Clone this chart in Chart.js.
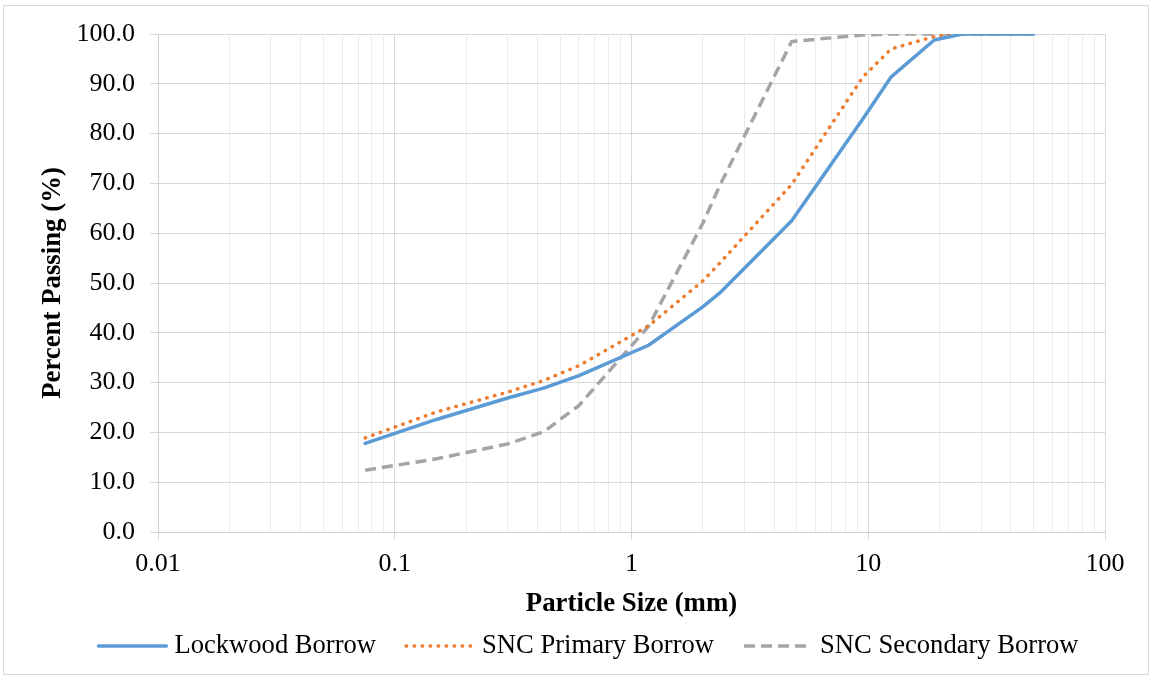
<!DOCTYPE html>
<html>
<head>
<meta charset="utf-8">
<title>Particle Size Distribution</title>
<script src="https://cdn.jsdelivr.net/npm/chart.js@4.4.1/dist/chart.umd.min.js"></script>
<style>
  html, body { margin: 0; padding: 0; background: #ffffff; }
  #wrap { width: 1152px; height: 677px; position: relative; }
  canvas { display: block; }
</style>
</head>
<body>
<div id="wrap"><canvas id="gradation" width="1152" height="677"></canvas></div>
<script>
// Sieve sizes (mm) and percent passing for each borrow source
const sieveSizes   = [0.075, 0.15, 0.3, 0.425, 0.6, 1.18, 2.0, 2.36, 4.75, 9.5, 12.5, 19, 25, 37.5, 50];
const lockwood     = [17.8, 22.6, 26.9, 28.9, 31.4, 37.5, 45.2, 48.0, 62.5, 83.0, 91.4, 98.8, 100, 100, 100];
const sncPrimary   = [18.9, 24.1, 28.1, 30.4, 33.4, 41.4, 50.4, 54.0, 69.8, 91.4, 97.0, 99.5, 100, 100, 100];
const sncSecondary = [12.4, 14.7, 17.7, 20.1, 25.4, 41.3, 62.0, 69.6, 98.5, 99.8, 100, 100, 100, 100, 100];

const seriesNames = ['Lockwood Borrow', 'SNC Primary Borrow', 'SNC Secondary Borrow'];
const xDecadeLabels = ['0.01', '0.1', '1', '10', '100'];
const yTickValues = [0, 10, 20, 30, 40, 50, 60, 70, 80, 90, 100];
const xTitle = 'Particle Size (mm)';
const yTitle = 'Percent Passing (%)';

const SERIF = '"Liberation Serif", "Times New Roman", serif';
const INK = '#000000';
const MAJOR_GRID = '#d9d9d9';
const MINOR_GRID = '#ebebeb';
const legendCenterX = 588.5;
const legendY = 646;

// log-axis gridline positions: 1..9 in every decade between the first and last labelled decade
const decades = xDecadeLabels.map(Number);
const xGridValues = [];
for (let d = 0; d < decades.length - 1; d++) {
  for (let k = 1; k <= 9; k++) xGridValues.push(Number((k * decades[d]).toPrecision(6)));
}
xGridValues.push(decades[decades.length - 1]);

const isDecade = v => Math.abs(Math.log10(v) - Math.round(Math.log10(v))) < 1e-9;

function toPoints(values) {
  return sieveSizes.map((s, i) => ({ x: s, y: values[i] }));
}

// legend drawn beneath the axis title, plus the outer frame
const bottomKey = {
  id: 'bottomKey',
  afterDraw(chart) {
    const ctx = chart.ctx;
    ctx.save();
    ctx.font = '26.6px ' + SERIF;
    const sample = 68, gapText = 8, gapItem = 30;
    const items = chart.data.datasets.map(ds => ({ ds, w: ctx.measureText(ds.label).width }));
    const total = items.reduce((s, it) => s + sample + gapText + it.w, 0) + gapItem * (items.length - 1);
    let x = legendCenterX - total / 2;
    items.forEach(it => {
      const ds = it.ds;
      ctx.beginPath();
      ctx.strokeStyle = ds.borderColor;
      ctx.lineWidth = ds.borderWidth;
      ctx.setLineDash(ds.borderDash || []);
      ctx.lineCap = ds.borderCapStyle || 'butt';
      ctx.moveTo(x, legendY);
      ctx.lineTo(x + sample, legendY);
      ctx.stroke();
      ctx.setLineDash([]);
      ctx.fillStyle = INK;
      ctx.textBaseline = 'middle';
      ctx.textAlign = 'left';
      ctx.fillText(ds.label, x + sample + gapText, legendY);
      x += sample + gapText + it.w + gapItem;
    });
    ctx.strokeStyle = '#d9d9d9';
    ctx.lineWidth = 1;
    ctx.strokeRect(3.5, 5.5, 1145, 669);
    ctx.restore();
  }
};

new Chart(document.getElementById('gradation'), {
  type: 'line',
  data: {
    datasets: [
      {
        label: seriesNames[0],
        data: toPoints(lockwood),
        borderColor: '#5b9bd5',
        borderWidth: 3.5,
        borderCapStyle: 'round',
        borderJoinStyle: 'round'
      },
      {
        label: seriesNames[1],
        data: toPoints(sncPrimary),
        borderColor: '#ed7d31',
        borderWidth: 3.5,
        borderDash: [0.5, 7.5],
        borderCapStyle: 'round',
        borderJoinStyle: 'round'
      },
      {
        label: seriesNames[2],
        data: toPoints(sncSecondary),
        borderColor: '#a5a5a5',
        borderWidth: 3.5,
        borderDash: [11, 6],
        borderCapStyle: 'butt',
        borderJoinStyle: 'round'
      }
    ]
  },
  options: {
    responsive: false,
    animation: false,
    devicePixelRatio: 1,
    elements: { point: { radius: 0, hoverRadius: 0 }, line: { tension: 0, fill: false } },
    layout: { padding: { left: 10, right: 47, top: 34, bottom: 60 } },
    plugins: { legend: { display: false }, tooltip: { enabled: false } },
    scales: {
      x: {
        type: 'logarithmic',
        min: decades[0],
        max: decades[decades.length - 1],
        afterBuildTicks(scale) {
          scale.ticks = xGridValues.map(v => ({ value: v, major: isDecade(v) }));
        },
        afterFit(scale) { scale.height = 85; },
        ticks: {
          autoSkip: false,
          maxRotation: 0,
          padding: 9,
          color: INK,
          font: { family: SERIF, size: 26 },
          callback(value) {
            if (!isDecade(value)) return '';
            const i = decades.findIndex(d => Math.abs(d - value) < d * 1e-6);
            return i >= 0 ? xDecadeLabels[i] : '';
          }
        },
        grid: {
          drawTicks: true,
          tickLength: 8,
          color: c => (c.tick && isDecade(c.tick.value)) ? MAJOR_GRID : MINOR_GRID,
          tickColor: c => (c.tick && isDecade(c.tick.value)) ? MAJOR_GRID : 'rgba(0,0,0,0)',
          lineWidth: 1
        },
        border: { display: true, color: '#cfcfcf', width: 1 },
        title: {
          display: true,
          text: xTitle,
          color: INK,
          font: { family: SERIF, size: 26.8, weight: 'bold', lineHeight: 1 },
          padding: { top: 0, bottom: 0 }
        }
      },
      y: {
        type: 'linear',
        min: yTickValues[0],
        max: yTickValues[yTickValues.length - 1],
        afterBuildTicks(scale) {
          scale.ticks = yTickValues.map(v => ({ value: v }));
        },
        afterFit(scale) { scale.width = 148; },
        ticks: {
          padding: 15,
          color: INK,
          font: { family: SERIF, size: 26 },
          callback: v => Number(v).toFixed(1)
        },
        grid: {
          drawTicks: true,
          tickLength: 8,
          color: MAJOR_GRID,
          tickColor: MAJOR_GRID,
          lineWidth: 1
        },
        border: { display: true, color: '#cfcfcf', width: 1 },
        title: {
          display: true,
          text: yTitle,
          color: INK,
          font: { family: SERIF, size: 26.8, weight: 'bold', lineHeight: 1 },
          padding: { top: 30, bottom: 0 }
        }
      }
    }
  },
  plugins: [bottomKey]
});
</script>
</body>
</html>
